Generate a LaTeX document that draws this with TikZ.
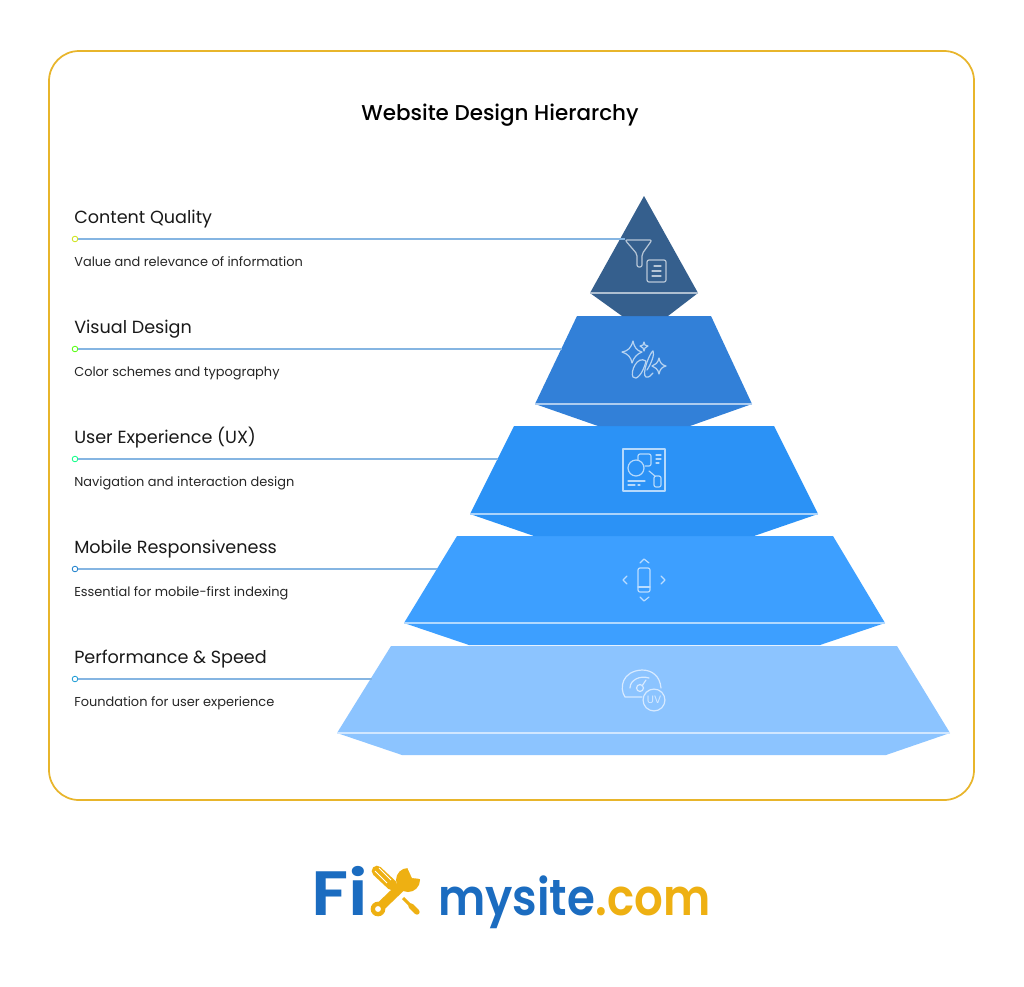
\documentclass[tikz,border=0pt]{standalone}
\usepackage{fontspec}
\setmainfont{Poppins}
\newfontfamily\titlefont{Poppins Medium}
\newfontfamily\logofont[FakeStretch=0.89]{Poppins SemiBold}
\newfontfamily\logowide[FakeStretch=1.12]{Poppins SemiBold}
\usetikzlibrary{positioning,calc}
\definecolor{cardline}{HTML}{E8B52B}
\definecolor{leader}{HTML}{85B5E2}
\definecolor{layerA}{HTML}{355F8D}
\definecolor{layerB}{HTML}{3280D8}
\definecolor{layerC}{HTML}{2B92F6}
\definecolor{layerD}{HTML}{3D9FFF}
\definecolor{layerE}{HTML}{8CC4FF}
\definecolor{logoblue}{HTML}{1B6CC0}
\definecolor{logogold}{HTML}{EEB012}
\tikzset{
	heading/.style={anchor=base west,inner sep=0pt,font=\fontsize{13.2}{15}\selectfont,text=black!90},
	subheading/.style={anchor=base west,inner sep=0pt,font=\fontsize{9.7}{12}\selectfont,text=black!85},
	dotmark/.style={circle,draw=#1,fill=white,line width=0.6pt,minimum size=4.2pt,inner sep=0pt},
	leaderline/.style={draw=leader,line width=0.85pt},
	edgeline/.style={draw=white!60!#1,line width=0.9pt},
	icon/.style={draw=white!65!#1,line width=0.9pt,line cap=round,line join=round,fill=none},
	logotext/.style={anchor=base west,inner sep=0pt,font=\logofont\fontsize{38}{44}\selectfont}
}
\begin{document}
\begin{tikzpicture}[x=0.75pt,y=-0.75pt]
	\useasboundingbox (0,0) rectangle (1024,986);
	\fill[white] (0,0) rectangle (1024,986);
	% card
	\draw[cardline,line width=1.3pt,rounded corners=22.5pt] (49,51) rectangle (974,800);
	\node[inner sep=0pt,font=\titlefont\fontsize{16.1}{20}\selectfont] (title) at (500,115) {Website Design Hierarchy};
	% layers
	\fill[layerE] (391,646) -- (897,646) -- (950,733) -- (886,755) -- (402,755) -- (337,733) -- cycle;
	\draw[edgeline=layerE] (337,733) -- (950,733);
	\fill[layerD] (457,536) -- (833,536) -- (885,623) -- (820,645) -- (469,645) -- (404,623) -- cycle;
	\draw[edgeline=layerD] (404,623) -- (885,623);
	\fill[layerC] (514,426) -- (774,426) -- (818,514) -- (754,536) -- (534,536) -- (470,514) -- cycle;
	\draw[edgeline=layerC] (470,514) -- (818,514);
	\fill[layerB] (577,316) -- (711,316) -- (752,404) -- (690,426) -- (598,426) -- (535,404) -- cycle;
	\draw[edgeline=layerB] (535,404) -- (752,404);
	\fill[layerA] (644,196) -- (698,293) -- (668,316) -- (622,316) -- (590,293) -- cycle;
	\draw[edgeline=layerA] (590,293) -- (698,293);
	% labels
	\node[heading] (quality) at (74,223) {Content Quality};
	\node[dotmark=yellow!80!green] (qualitydot) at (75,239) {};
	\node[subheading] (qualitysub) at (74,266) {Value and relevance of information};
	\coordinate (qualityend) at (625,239);
	\draw[leaderline] (qualitydot) -- (qualityend);
	\node[heading] (visual) at (74,333) {Visual Design};
	\node[dotmark=green!70!yellow] (visualdot) at (75,349) {};
	\node[subheading] (visualsub) at (74,376) {Color schemes and typography};
	\coordinate (visualend) at (562,349);
	\draw[leaderline] (visualdot) -- (visualend);
	\node[heading] (ux) at (74,443) {User Experience (UX)};
	\node[dotmark=green!50!cyan] (uxdot) at (75,459) {};
	\node[subheading] (uxsub) at (74,486) {Navigation and interaction design};
	\coordinate (uxend) at (498,459);
	\draw[leaderline] (uxdot) -- (uxend);
	\node[heading] (mobile) at (74,553) {Mobile Responsiveness};
	\node[dotmark=cyan!60!blue] (mobiledot) at (75,569) {};
	\node[subheading] (mobilesub) at (74,596) {Essential for mobile-first indexing};
	\coordinate (mobileend) at (437,569);
	\draw[leaderline] (mobiledot) -- (mobileend);
	\node[heading] (speed) at (74,663) {Performance \& Speed};
	\node[dotmark=logoblue!70!cyan] (speeddot) at (75,679) {};
	\node[subheading] (speedsub) at (74,706) {Foundation for user experience};
	\coordinate (speedend) at (372,679);
	\draw[leaderline] (speeddot) -- (speedend);
	% funnel icon
	\draw[icon=layerA,rounded corners=1.5pt] (625,240) -- (652,240) -- (642,254) -- (642,267) -- (637,267) -- (637,254) -- cycle;
	\draw[icon=layerA,rounded corners=1.5pt] (647,260) rectangle (666,282);
	\draw[icon=layerA] (654,266) -- (661,266) (652,271) -- (661,271) (652,276) -- (661,276);
	% sparkle icon
	\draw[icon=layerB] (622,352) .. controls (628,351) and (631,348) .. (633,341) .. controls (634,347) and (637,351) .. (642,352) .. controls (637,354) and (634,357) .. (632,363) .. controls (631,357) and (628,354) .. (622,352);
	\draw[icon=layerB] (659,358) .. controls (660,363) and (662,365) .. (666,366) .. controls (662,367) and (660,369) .. (659,374) .. controls (658,369) and (655,367) .. (652,366) .. controls (655,365) and (658,363) .. (659,358);
	\draw[icon=layerB] (644,342) -- (645,345) -- (648,346) -- (645,348) -- (644,351) -- (643,348) -- (640,346) -- (643,345) -- cycle;
	\draw[icon=layerB] (646,361) .. controls (637,355) and (630,372) .. (633,377) .. controls (636,381) and (643,374) .. (646,361);
	\draw[icon=layerB] (653,351) .. controls (650,352) and (641,375) .. (646,377) .. controls (649,378) and (651,375) .. (653,373);
	\draw[icon=layerB] (653,351) .. controls (655,354) and (651,364) .. (647,370);
	% chart icon
	\draw[icon=layerC] (623,449) rectangle (665,491);
	\draw[icon=layerC] (636,468) circle (6pt);
	\draw[icon=layerC,rounded corners=1.5pt] (638,460) -- (638,454) -- (651,454) -- (651,466) -- (645,466);
	\draw[icon=layerC] (649,471) -- (655,476);
	\draw[icon=layerC,rounded corners=1.5pt] (654,476) rectangle (661,487);
	\draw[icon=layerC] (656,455) -- (661,455) (656,459) -- (661,459) (656,463) -- (659,463);
	\draw[icon=layerC] (628,481) -- (645,481) (628,485) -- (635,485) (638,485) -- (640,485);
	% mobile icon
	\draw[icon=layerD,rounded corners=1.5pt] (638,568) rectangle (650,592);
	\draw[icon=layerD] (638,587) -- (650,587);
	\draw[icon=layerD] (640,563) -- (644,559) -- (649,563);
	\draw[icon=layerD] (640,597) -- (644,601) -- (649,597);
	\draw[icon=layerD] (627,576) -- (623,580) -- (627,584);
	\draw[icon=layerD] (661,576) -- (665,580) -- (661,584);
	% gauge icon
	\draw[icon=layerE] (642,697) -- (625,697) .. controls (619,688) and (622,671) .. (642,670) .. controls (652,670) and (660,676) .. (661,688);
	\draw[icon=layerE] (630,688) .. controls (630,680) and (640,675) .. (649,678);
	\draw[icon=layerE] (640,688) circle (2.6pt);
	\draw[icon=layerE] (642,686) -- (646,680);
	\draw[icon=layerE] (654,700) circle (8.2pt);
	\node[inner sep=0pt,font=\fontsize{8}{8}\selectfont,text=white!65!layerE] (gaugeuv) at (654,700) {UV};
	% logo
	\node[logotext,text=logoblue,font=\logowide\fontsize{47}{50}\selectfont] (logofi) at (311,915) {Fi};
	\node[logotext,text=logoblue] (logomy) at (438,915) {mysite};
	\node[logotext,text=logogold,right=0pt of logomy.base east,anchor=base west] (logocom) {.com};
	% wrench
	\draw[logogold,line width=7pt] (379,908) -- (404,884);
	\fill[logogold] (378,909) circle (5.5pt) (408,880) circle (9pt);
	\fill[white] (378,909) circle (2.2pt);
	\fill[white] (412,878) -- (407,867) -- (407,862) -- (426,862) -- (426,879) -- (421,879) -- cycle;
	% screwdriver
	\draw[logogold,line width=8pt,line cap=round] (377,871) -- (392,885);
	\draw[white,line width=0.7pt] (379,868) -- (391,880) (375,871) -- (387,883);
	\draw[logogold,line width=2.2pt] (403,898) -- (412,907);
	\draw[logogold,line width=4pt,line cap=round] (411,906) -- (417,912);
\end{tikzpicture}
\end{document}
